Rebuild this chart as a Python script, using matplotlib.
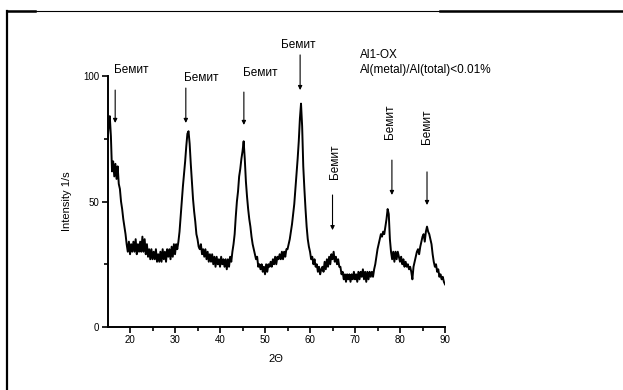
import numpy as np
import matplotlib
matplotlib.use('Agg')
import matplotlib.pyplot as plt
from matplotlib.lines import Line2D

plt.rcParams['font.family'] = ['Liberation Sans', 'DejaVu Sans']

# XRD pattern (2theta grid 15..90, step 0.25)
two_theta = np.round(np.arange(15.0, 90.001, 0.25), 2)
intensity = [
    74, 80, 84, 76, 62, 66, 60, 65,      # 15-16.75
    59, 64, 57, 55, 50, 47, 43, 40,      # 17-18.75
    37, 33, 30, 34, 29, 33, 30, 34,      # 19-20.75
    30, 35, 29, 33, 30, 34, 30, 36,      # 21-22.75
    30, 35, 29, 33, 28, 31, 27, 31,      # 23-24.75
    27, 30, 27, 31, 26, 29, 26, 30,      # 25-26.75
    26, 31, 27, 30, 26, 31, 28, 31,      # 27-28.75
    27, 32, 28, 33, 29, 33, 31, 34,      # 29-30.75
    38, 44, 50, 56, 61, 66, 72, 77,      # 31-32.75
    78, 73, 65, 58, 51, 46, 42, 37,      # 33-34.75
    35, 32, 31, 33, 29, 31, 28, 31,      # 35-36.75
    27, 30, 26, 29, 26, 29, 25, 28,      # 37-38.75
    24, 28, 25, 27, 24, 28, 25, 27,      # 39-40.75
    24, 27, 23, 27, 24, 28, 26, 30,      # 41-42.75
    33, 37, 44, 50, 54, 60, 63, 67,      # 43-44.75
    70, 74, 67, 58, 52, 47, 43, 40,      # 45-46.75
    36, 33, 31, 29, 27, 28, 24, 25,      # 47-48.75
    23, 25, 22, 24, 21, 25, 22, 25,      # 49-50.75
    24, 26, 24, 27, 25, 28, 25, 28,      # 51-52.75
    27, 29, 27, 30, 27, 30, 28, 31,      # 53-54.75
    31, 33, 35, 38, 41, 45, 49, 55,      # 55-56.75
    61, 67, 74, 83, 89, 80, 64, 55,      # 57-58.75
    47, 40, 35, 32, 30, 27, 28, 25,      # 59-60.75
    27, 24, 25, 22, 24, 21, 23, 24,      # 61-62.75
    22, 26, 23, 27, 24, 28, 25, 29,      # 63-64.75
    27, 30, 26, 28, 25, 27, 24, 24,      # 65-66.75
    21, 22, 19, 21, 18, 21, 19, 21,      # 67-68.75
    18, 21, 19, 22, 19, 21, 18, 22,      # 69-70.75
    19, 22, 20, 23, 19, 22, 18, 22,      # 71-72.75
    19, 22, 20, 22, 20, 23, 25, 28,      # 73-74.75
    31, 33, 35, 37, 36, 38, 37, 40,      # 75-76.75
    43, 47, 45, 35, 30, 27, 30, 26,      # 77-78.75
    30, 27, 30, 28, 26, 28, 25, 27,      # 79-80.75
    24, 26, 24, 25, 23, 24, 22, 19,      # 81-82.75
    24, 26, 28, 30, 31, 29, 32, 34,      # 83-84.75
    36, 37, 34, 38, 40, 38, 37, 35,      # 85-86.75
    33, 29, 26, 24, 25, 22, 23, 20,      # 87-88.75
    21, 19, 20, 18, 17,                  # 89-90
]

label = 'Бемит'

fig = plt.figure(figsize=(6.23, 3.9), dpi=100)
ax = fig.add_axes([0.1726, 0.1615, 0.5417, 0.6436])

ax.plot(two_theta, intensity, color='black', lw=1.4)

ax.set_xlim(15, 90)
ax.set_ylim(0, 100)
ax.set_xticks([20, 30, 40, 50, 60, 70, 80, 90])
ax.set_xticks([25, 35, 45, 55, 65, 75, 85], minor=True)
ax.set_yticks([0, 50, 100])
ax.set_yticks([25, 75], minor=True)
for s in ['top', 'right']:
    ax.spines[s].set_visible(False)
for s in ['left', 'bottom']:
    ax.spines[s].set_linewidth(1.4)
ax.tick_params(which='major', direction='out', length=4, width=1.2, labelsize=7, pad=2)
ax.tick_params(which='minor', direction='out', length=3, width=1.2)
ax.set_xlabel('2Θ', fontsize=8, labelpad=6)
ax.set_ylabel('Intensity 1/s', fontsize=8, labelpad=8)

# arrows
arrows = [(16.7, 94.4, 81.3), (32.4, 95.2, 81.3), (45.3, 93.6, 80.5),
          (57.8, 108.4, 94.4), (65.0, 52.6, 38.6), (78.2, 66.5, 52.6),
          (86.0, 61.8, 48.6)]
for x, y0, y1 in arrows:
    ax.annotate('', xy=(x, y1), xytext=(x, y0), annotation_clip=False,
                arrowprops=dict(arrowstyle='-|>', color='black', lw=0.8,
                                mutation_scale=6, shrinkA=0, shrinkB=0))

# labels
for x, y in [(20.3, 102.4), (35.8, 99.2), (48.9, 101.2), (57.3, 112.4)]:
    ax.text(x, y, label, fontsize=8.5, ha='center', va='center', clip_on=False)
for x, y in [(65.6, 65.7), (77.8, 81.7), (86.0, 79.7)]:
    ax.text(x, y, label, fontsize=8.5, ha='center', va='center', rotation=90, clip_on=False)

ax.text(71.0, 108.4, 'Al1-OX', fontsize=8.5, ha='left', va='center', clip_on=False)
ax.text(71.0, 102.4, 'Al(metal)/Al(total)<0.01%', fontsize=8.5, ha='left', va='center', clip_on=False)

# page frame
fx = 7 / 623
fy = 1 - 11 / 390
fig.add_artist(Line2D([fx, fx], [0, fy], color='black', lw=1.6))
fig.add_artist(Line2D([fx, 1], [fy, fy], color='black', lw=0.8))
fig.add_artist(Line2D([fx, 35 / 623], [fy, fy], color='black', lw=1.8))
fig.add_artist(Line2D([440 / 623, 1], [fy, fy], color='black', lw=1.8))

fig.savefig('out.png', dpi=100)
